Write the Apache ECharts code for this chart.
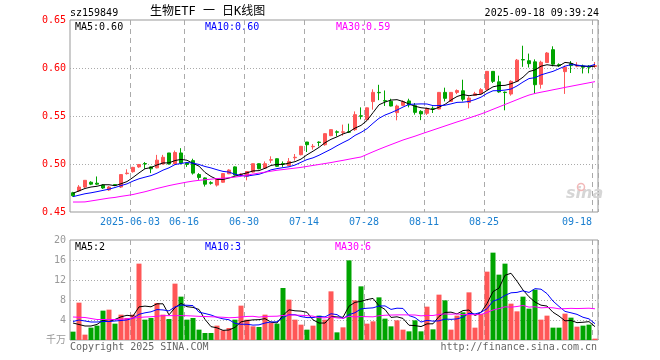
<!DOCTYPE html>
<html><head><meta charset="utf-8">
<script src="https://cdn.jsdelivr.net/npm/echarts@6/dist/echarts.min.js"></script>
<style>html,body{margin:0;padding:0;background:#fff}#c{width:660px;height:360px}</style>
</head><body><div id="c"></div>
<script>
const dates = [
'2025-05-19','2025-05-20','2025-05-21','2025-05-22','2025-05-23','2025-05-26','2025-05-27','2025-05-28','2025-05-29','2025-05-30',
'2025-06-03','2025-06-04','2025-06-05','2025-06-06','2025-06-09','2025-06-10','2025-06-11','2025-06-12','2025-06-13','2025-06-16',
'2025-06-17','2025-06-18','2025-06-19','2025-06-20','2025-06-23','2025-06-24','2025-06-25','2025-06-26','2025-06-27','2025-06-30',
'2025-07-01','2025-07-02','2025-07-03','2025-07-04','2025-07-07','2025-07-08','2025-07-09','2025-07-10','2025-07-11','2025-07-14',
'2025-07-15','2025-07-16','2025-07-17','2025-07-18','2025-07-21','2025-07-22','2025-07-23','2025-07-24','2025-07-25','2025-07-28',
'2025-07-29','2025-07-30','2025-07-31','2025-08-01','2025-08-04','2025-08-05','2025-08-06','2025-08-07','2025-08-08','2025-08-11',
'2025-08-12','2025-08-13','2025-08-14','2025-08-15','2025-08-18','2025-08-19','2025-08-20','2025-08-21','2025-08-22','2025-08-25',
'2025-08-26','2025-08-27','2025-08-28','2025-08-29','2025-09-01','2025-09-02','2025-09-03','2025-09-04','2025-09-05','2025-09-08',
'2025-09-09','2025-09-10','2025-09-11','2025-09-12','2025-09-15','2025-09-16','2025-09-17','2025-09-18'];

const opens = [.470,.472,.476,.481,.480,.478,.473,.4785,.476,.490,.492,.497,.5005,.497,.496,.500,.5115,.500,.5115,.501,
.5035,.489,.4855,.4805,.478,.481,.4898,.497,.489,.4873,.4916,.5003,.4956,.504,.5055,.5005,.4982,.5065,.5097,.5229,
.518,.5228,.5201,.5295,.5335,.533,.5336,.5358,.5502,.5462,.565,.5746,.566,.5653,.5535,.5611,.5657,.5607,.5548,.5528,
.558,.5573,.5746,.5652,.5746,.5763,.5642,.5714,.5732,.5774,.5965,.5856,.5748,.5729,.5861,.6088,.6076,.6064,.583,.6057,
.6191,.6035,.5962,.6045,.602,.602,.602,.6015];
const closes = [.467,.476,.483,.479,.479,.475,.476,.478,.489,.4905,.4965,.4995,.500,.495,.504,.507,.500,.512,.501,.4995,
.4905,.486,.479,.480,.4845,.490,.4937,.4885,.4895,.4922,.5003,.4951,.5003,.5045,.4976,.500,.5027,.507,.5184,.5201,
.5184,.5224,.5316,.5358,.5331,.5335,.5332,.5514,.5498,.5585,.5746,.5742,.5655,.5604,.5604,.5649,.5615,.5538,.5522,.5578,
.5575,.5746,.5684,.5746,.5765,.5674,.5687,.5732,.5774,.5965,.5861,.5751,.5744,.5861,.6082,.6084,.6045,.5826,.606,.6156,
.604,.6025,.6008,.6025,.6027,.6008,.6008,.6025];
const lows = [.466,.471,.475,.478,.478,.474,.472,.477,.475,.489,.491,.496,.495,.4905,.4955,.4995,.4995,.4995,.4995,.497,
.489,.4835,.4765,.4785,.4765,.4805,.4895,.488,.487,.483,.491,.4945,.495,.501,.497,.497,.498,.5035,.509,.5125,
.515,.5184,.519,.529,.5288,.5295,.5325,.5345,.5465,.5455,.5566,.5665,.5604,.560,.5455,.5604,.559,.5514,.5457,.551,
.5531,.557,.5652,.565,.5728,.5652,.558,.5708,.573,.577,.5844,.5742,.5559,.5712,.5855,.6012,.6005,.5731,.5785,.6055,
.6017,.6012,.573,.5948,.6008,.5943,.5945,.6003];
const highs = [.471,.478,.483,.482,.487,.479,.477,.479,.489,.4945,.497,.500,.502,.4975,.5095,.5095,.5115,.514,.5165,.5015,
.5055,.4905,.486,.482,.485,.4905,.4945,.4975,.4905,.4925,.5005,.5005,.5027,.508,.5058,.5027,.5062,.5104,.5188,.523,
.5208,.5236,.532,.536,.535,.541,.542,.5548,.559,.5588,.5778,.5825,.5766,.568,.5618,.5663,.568,.5635,.556,.5587,
.560,.575,.5795,.575,.5777,.5878,.5705,.5752,.5791,.5967,.5968,.592,.5755,.5872,.6094,.6232,.615,.609,.6076,.6166,
.6226,.6048,.6025,.6072,.606,.6035,.603,.6062];

const ma5 = [.4695,.4720,.4745,.4760,.4768,.4784,.4784,.4774,.4794,.4817,.4860,.4907,.4951,.4963,.4990,.5011,.5012,.5036,.5048,.5039,
.5006,.4978,.4912,.4870,.4840,.4839,.4854,.4873,.4892,.4908,.4928,.4931,.4955,.4985,.4996,.4995,.5010,.5024,.5051,.5096,
.5133,.5173,.5222,.5257,.5283,.5313,.5334,.5374,.5402,.5453,.5535,.5617,.5645,.5666,.5670,.5651,.5625,.5602,.5586,.5580,
.5566,.5592,.5621,.5666,.5703,.5723,.5711,.5721,.5726,.5766,.5804,.5817,.5819,.5836,.5860,.5904,.5963,.5980,.6019,.6034,
.6025,.6021,.6058,.6051,.6025,.6019,.6015,.6019];
const ma10 = [.4660,.4675,.4690,.4700,.4712,.4725,.4738,.4755,.4775,.4793,.4822,.4846,.4863,.4879,.4904,.4936,.4960,.4994,.5006,.5015,
.5009,.4995,.4974,.4959,.4940,.4923,.4916,.4893,.4881,.4874,.4884,.4893,.4914,.4939,.4952,.4962,.4971,.4989,.5018,.5046,
.5064,.5091,.5123,.5154,.5190,.5223,.5254,.5298,.5329,.5368,.5424,.5476,.5510,.5534,.5562,.5593,.5621,.5624,.5626,.5625,
.5608,.5609,.5612,.5626,.5642,.5644,.5652,.5671,.5696,.5735,.5763,.5764,.5770,.5781,.5813,.5854,.5890,.5899,.5928,.5947,
.5965,.5992,.6019,.6035,.6030,.6022,.6018,.6038];
const ma30 = [.4604,.4604,.4605,.4615,.4625,.4635,.4645,.4652,.4663,.4672,.4682,.4697,.4711,.4728,.4745,.4760,.4775,.4788,.4800,.4812,
.4822,.4830,.4836,.4842,.4848,.4852,.4857,.4864,.4872,.4885,.4895,.4905,.4915,.4925,.4935,.4942,.4950,.4957,.4965,.4975,
.4985,.4995,.5005,.5015,.5027,.5038,.5050,.5062,.5073,.5100,.5127,.5153,.5178,.5202,.5226,.5250,.5270,.5290,.5312,.5333,
.5354,.5375,.5396,.5417,.5438,.5458,.5479,.5500,.5521,.5545,.5570,.5595,.5620,.5645,.5670,.5695,.5718,.5735,.5748,.5760,
.5773,.5785,.5798,.5810,.5822,.5834,.5846,.5858];

const volumes = [1.67,7.47,1.07,2.47,2.87,5.87,6.07,3.27,5.07,4.4,5.07,15.27,4.07,4.4,7.4,5.07,4.2,11.27,8.67,4.07,
4.4,2.07,1.4,1.4,2.87,1.93,2.4,4.07,6.87,4.07,2.73,2.6,5.07,3.4,3.27,10.4,8.07,4.07,3.07,2.07,
2.87,4.87,4.07,9.73,1.53,2.53,15.93,7.93,10.73,3.27,3.73,8.53,4.27,2.73,3.93,2.07,1.73,3.93,1.73,6.67,
2.13,9.07,7.93,2.07,4.87,5.53,9.53,2.47,5.2,13.67,17.47,13.07,15.27,7.27,5.73,8.67,6.27,10.07,4.07,4.87,
2.47,2.47,5.27,4.47,2.67,2.87,3.07,0.27];
const vma5 = [3.4,3.1,2.8,2.8,3.11,3.95,3.67,4.11,4.63,4.94,4.78,6.62,6.78,6.64,7.24,7.24,5.03,6.47,7.32,6.66,
6.52,6.10,4.12,2.67,2.43,1.93,2.00,2.53,3.63,3.87,4.03,4.07,4.27,3.57,3.41,4.95,6.04,5.84,5.78,5.54,
4.03,3.39,3.39,4.72,4.61,4.55,6.76,7.53,7.73,8.08,8.32,6.84,6.11,4.51,4.64,4.31,2.95,2.88,2.68,3.23,
3.24,4.71,5.51,5.57,5.21,5.89,5.99,4.89,5.52,7.28,9.67,10.38,12.94,13.35,11.76,10.00,8.64,7.60,6.96,6.79,
5.55,4.79,3.83,3.91,3.47,3.55,3.67,2.67];
const vma10 = [3.7,4.0,3.8,3.6,3.6,3.7,3.7,3.8,3.9,4.02,4.36,5.14,5.44,5.64,6.09,6.01,5.82,6.62,6.98,6.95,
6.88,5.56,5.30,5.00,4.54,4.23,4.05,3.33,3.15,3.15,2.98,3.03,3.40,3.60,3.64,4.49,5.06,5.06,4.68,4.48,
4.49,4.72,4.62,5.25,5.08,4.29,5.07,5.46,6.23,6.35,6.43,6.80,6.82,6.12,6.36,6.31,4.89,4.49,3.59,3.93,
3.77,3.83,4.19,4.13,4.22,4.57,5.35,5.20,5.55,6.25,7.78,8.18,8.92,9.44,9.52,9.84,9.51,10.27,10.16,9.28,
7.78,6.72,5.72,5.44,5.13,4.55,4.23,3.25];
const vma30 = [4.6,4.55,4.5,4.3,4.1,4.1,4.1,4.1,4.15,4.25,4.4,4.5,4.6,4.65,4.75,4.87,4.87,4.87,4.87,4.85,
4.8,4.73,4.7,4.65,4.6,4.55,4.45,4.5,4.6,4.71,4.74,4.58,4.71,4.74,4.76,4.91,4.98,5.00,4.94,4.86,
4.78,4.44,4.44,4.62,4.42,4.33,4.73,4.61,4.68,4.66,4.63,4.85,4.95,4.99,5.02,5.03,5.01,5.00,4.83,4.92,
4.90,5.11,5.21,5.16,5.22,5.06,5.10,5.05,5.12,5.51,6.00,6.27,6.64,6.56,6.70,6.90,6.58,6.65,6.43,6.49,
6.44,6.24,6.27,6.33,6.29,6.32,6.36,6.24];

const labelDates = ['2025-06-03','2025-06-16','2025-06-30','2025-07-14','2025-07-28','2025-08-11','2025-08-25','2025-09-18'];
const priceTicks = [0.45,0.50,0.55,0.60,0.65];
const volTicks = [0,4,8,12,16,20];
const volUnit = '千万';

const FONT = "'DejaVu Sans Mono','Noto Sans CJK SC',monospace";
const RED = '#ff5757', GREEN = '#00a400';
const tickIdx = new Set(labelDates.map(d => dates.indexOf(d)));
const lastIdx = dates.length - 1;

const ohlc = opens.map((o, i) => [o, closes[i], lows[i], highs[i]]);
const volData = volumes.map((v, i) => ({value: v, itemStyle: {color: closes[i] >= opens[i] ? RED : GREEN}}));

const chart = echarts.init(document.getElementById('c'), null, {renderer: 'canvas'});
const splitX = {show: true, interval: (i) => tickIdx.has(i), lineStyle: {color: '#aaa', type: [5, 4], width: 1}};
const lineS = (name, data, color, xi, yi) => ({
  type: 'line', name, data, xAxisIndex: xi, yAxisIndex: yi, symbol: 'none', z: 5,
  lineStyle: {color, width: 1}, itemStyle: {color}, animation: false
});
const txt = (text, left, top, color, size, extra) => Object.assign({
  type: 'text', left, top, style: {text, fill: color, font: `${size || 10}px ${FONT}`}
}, extra || {});

chart.setOption({
  animation: false,
  backgroundColor: '#fff',
  grid: [
    {left: 70, top: 20, width: 528, height: 192, show: true, borderColor: '#999', borderWidth: 1},
    {left: 70, top: 240, width: 528, height: 100, show: true, borderColor: '#999', borderWidth: 1}
  ],
  xAxis: [
    {type: 'category', gridIndex: 0, data: dates, boundaryGap: true,
     axisLine: {show: false}, axisTick: {show: false},
     axisLabel: {
       interval: (i) => tickIdx.has(i), color: '#1a7fd0', fontFamily: FONT, fontSize: 10, margin: 5,
       formatter: (v, i) => {
         const t = v === labelDates[0] ? v : v.slice(5);
         return (i === lastIdx || v === labelDates[labelDates.length - 1]) ? '{b|' + t + '}' : '{a|' + t + '}';
       },
       rich: {a: {padding: [0, 6, 0, 0], fontFamily: FONT, fontSize: 10, color: '#1a7fd0'},
              b: {padding: [0, 36, 0, 0], fontFamily: FONT, fontSize: 10, color: '#1a7fd0'}}
     },
     splitLine: splitX},
    {type: 'category', gridIndex: 1, data: dates, boundaryGap: true,
     axisLine: {show: false}, axisTick: {show: false}, axisLabel: {show: false},
     splitLine: splitX}
  ],
  yAxis: [
    {type: 'value', gridIndex: 0, min: priceTicks[0], max: priceTicks[priceTicks.length - 1], interval: 0.05,
     axisLine: {show: false}, axisTick: {show: false},
     axisLabel: {color: '#ff0000', fontFamily: FONT, fontSize: 10, margin: 4, formatter: v => v.toFixed(2)},
     splitLine: {show: true, showMinLine: false, showMaxLine: false, lineStyle: {color: '#aaa', type: [1, 2]}}},
    {type: 'value', gridIndex: 1, min: volTicks[0], max: volTicks[volTicks.length - 1], interval: 4,
     axisLine: {show: false}, axisTick: {show: false},
     axisLabel: {color: '#999', fontFamily: FONT, fontSize: 10, margin: 4, formatter: v => v === 0 ? volUnit : String(v)},
     splitLine: {show: true, showMinLine: false, showMaxLine: false, lineStyle: {color: '#aaa', type: [1, 2]}}}
  ],
  series: [
    {type: 'candlestick', data: ohlc, xAxisIndex: 0, yAxisIndex: 0, barWidth: 4, z: 3,
     itemStyle: {color: RED, color0: GREEN, borderColor: RED, borderColor0: GREEN, borderWidth: 1}},
    lineS('MA5', ma5, '#000000', 0, 0),
    lineS('MA10', ma10, '#0000ff', 0, 0),
    lineS('MA30', ma30, '#ff00ff', 0, 0),
    {type: 'bar', data: volData, xAxisIndex: 1, yAxisIndex: 1, barWidth: 5, z: 3},
    lineS('VMA5', vma5, '#000000', 1, 1),
    lineS('VMA10', vma10, '#0000ff', 1, 1),
    lineS('VMA30', vma30, '#ff00ff', 1, 1)
  ],
  graphic: [
    txt('sz159849', 70, 8, '#000', 10),
    txt('生物ETF 一 日K线图', 150, 6, '#000', 12),
    txt('2025-09-18 09:39:24', null, 8, '#000', 10, {right: 61}),
    txt('MA5:' + ma5[lastIdx].toFixed(2), 75, 22, '#000', 10),
    txt('MA10:' + ma10[lastIdx].toFixed(2), 205, 22, '#0000ff', 10),
    txt('MA30:' + ma30[lastIdx].toFixed(2), 336, 22, '#ff00ff', 10),
    txt('MA5:' + Math.floor(vma5[lastIdx]), 75, 242, '#000', 10),
    txt('MA10:' + Math.floor(vma10[lastIdx]), 205, 242, '#0000ff', 10),
    txt('MA30:' + Math.floor(vma30[lastIdx]), 335, 242, '#ff00ff', 10),
    txt('Copyright 2025 SINA.COM', 70, 342, '#666', 10),
    txt('http://finance.sina.com.cn', null, 342, '#666', 10, {right: 63}),
    {type: 'text', left: 566, top: 186, z: 1,
     style: {text: 'sina', fill: '#d6d6d6', font: `italic bold 16px 'DejaVu Sans', sans-serif`}},
    {type: 'circle', left: 575, top: 181, z: 1, shape: {r: 3.5}, style: {fill: 'none', stroke: '#f2b8b8', lineWidth: 1.5}}
  ]
});
</script>
</body></html>
